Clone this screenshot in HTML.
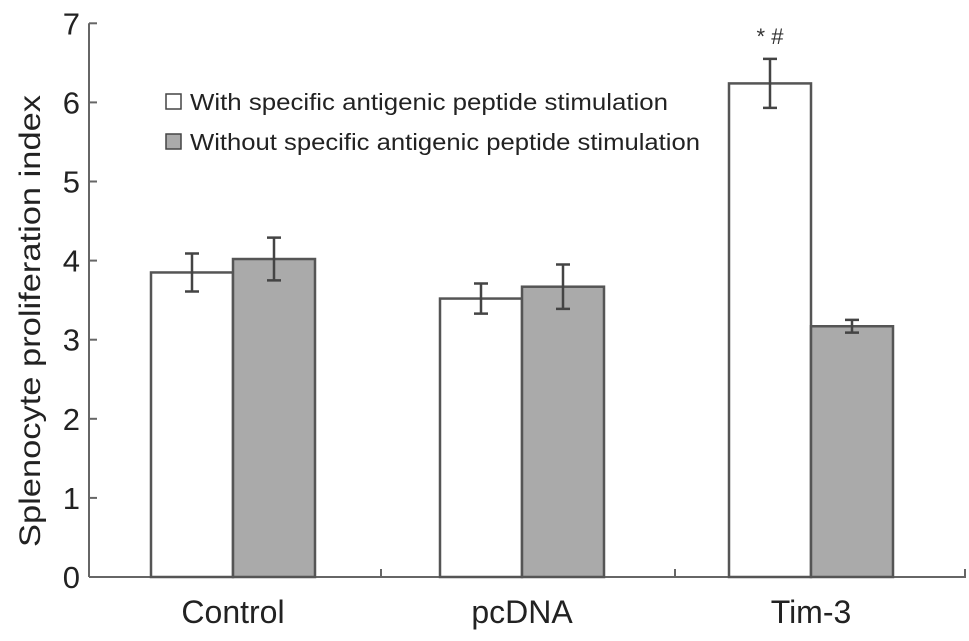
<!DOCTYPE html>
<html><head><meta charset="utf-8"><style>
body{margin:0;background:#fff;}
svg{display:block;font-family:"Liberation Sans",Arial,sans-serif;}
</style></head><body>
<svg id="chart" width="969" height="641" viewBox="0 0 969 641">
<g id="g"></g>
</svg>
<script>
const categories=["Control","pcDNA","Tim-3"];
const withValues=[3.85,3.52,6.24];
const withErr=[0.24,0.19,0.31];
const withoutValues=[4.02,3.67,3.17];
const withoutErr=[0.27,0.28,0.08];
const yTicks=[0,1,2,3,4,5,6,7];
const NS="http://www.w3.org/2000/svg";
const g=document.getElementById('g');
const y0=577,unit=79.1,axX=89;
const y=v=>y0-v*unit;
const groupStart=[151,440,729],bw=82;
function el(t,a,txt){const e=document.createElementNS(NS,t);for(const k in a)e.setAttribute(k,a[k]);if(txt!==undefined)e.textContent=txt;g.appendChild(e);return e;}
let e;
e=el('line',{x1:axX,y1:y(0),x2:966,y2:y(0),stroke:'#666','stroke-width':2});


[381,675,965].forEach(tx=>{
 e=el('line',{x1:tx,y1:y(0),x2:tx,y2:y(0)-8,stroke:'#666','stroke-width':2});
 
 
});
e=el('line',{x1:axX,y1:y(0),x2:axX,y2:y(7),stroke:'#666','stroke-width':2});


yTicks.forEach(t=>{
 e=el('line',{x1:axX,y1:y(t),x2:axX+8,y2:y(t),stroke:'#666','stroke-width':2});
 
 
 e=el('text',{x:80,y:y(t)+11,'text-anchor':'end','font-size':31,fill:'#222'},t);
 
 
});
e=el('text',{x:0,y:0,transform:'translate(40,321) rotate(-90)','text-anchor':'middle','font-size':30,fill:'#222',textLength:452,lengthAdjust:'spacingAndGlyphs'},'Splenocyte proliferation index');


function bar(x,v,err,fill,name){
 e=el('rect',{x:x,y:y(v),width:bw,height:y(0)-y(v),fill:fill,stroke:'#555','stroke-width':2.5});
 
 
 const cx=x+bw/2;
 e=el('path',{d:`M${cx},${y(v+err)}V${y(v-err)}M${cx-7},${y(v+err)}H${cx+7}M${cx-7},${y(v-err)}H${cx+7}`,stroke:'#444','stroke-width':2.5,fill:'none'});
 
 
}
const labelW=[111,92,87];
categories.forEach((c,i)=>{
 const x=groupStart[i];
 bar(x,withValues[i],withErr[i],'#fff','bar-with-'+c.toLowerCase());
 bar(x+bw,withoutValues[i],withoutErr[i],'#aaa','bar-without-'+c.toLowerCase());
 e=el('text',{x:x+bw,y:623,'text-anchor':'middle','font-size':32,fill:'#222'},c);
 
 
});
e=el('text',{x:770,y:y(withValues[2]+withErr[2])-15,'text-anchor':'middle','font-size':22,fill:'#333'},'* #');


e=el('rect',{x:166,y:94,width:15,height:15,fill:'#fff',stroke:'#444','stroke-width':1.5});


e=el('text',{x:190,y:110,'font-size':23,fill:'#222',textLength:478,lengthAdjust:'spacingAndGlyphs'},'With specific antigenic peptide stimulation');


e=el('rect',{x:166,y:134,width:15,height:15,fill:'#aaa',stroke:'#444','stroke-width':1.5});


e=el('text',{x:190,y:150,'font-size':23,fill:'#222',textLength:510,lengthAdjust:'spacingAndGlyphs'},'Without specific antigenic peptide stimulation');


</script>
</body></html>
